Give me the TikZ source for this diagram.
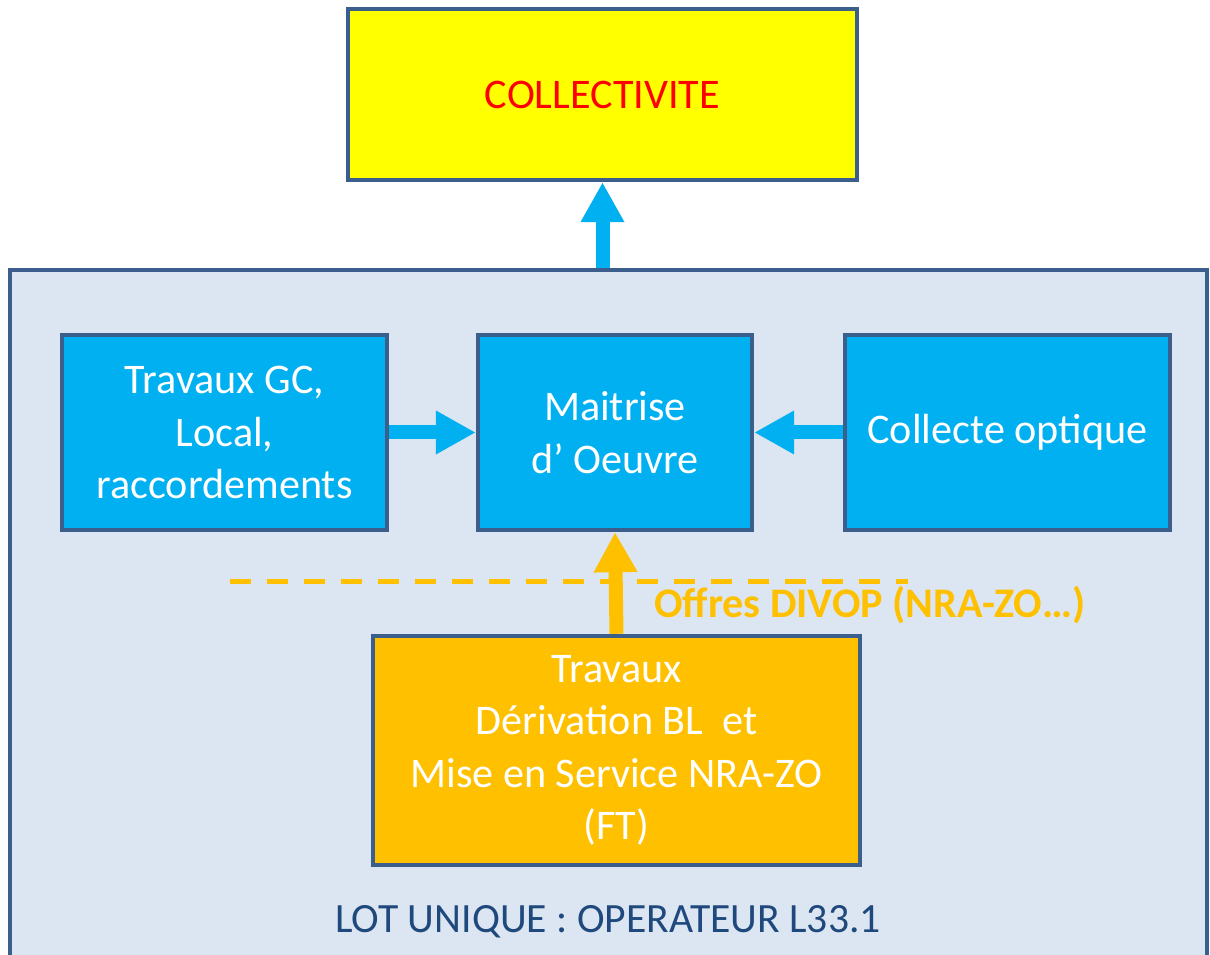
\documentclass[tikz,border=0pt]{standalone}
\usepackage{fontspec}
\setmainfont{Carlito}
\usepackage{xcolor}
\usetikzlibrary{arrows.meta, positioning}
\definecolor{framedark}{RGB}{59, 94, 140}
\definecolor{lotfill}{RGB}{220, 230, 242}
\definecolor{boxblue}{RGB}{0, 176, 240}
\definecolor{ftorange}{RGB}{255, 192, 0}
\definecolor{colyellow}{RGB}{255, 255, 0}
\definecolor{colred}{RGB}{255, 0, 0}
\definecolor{lottext}{RGB}{31, 73, 125}

\tikzset{
    box/.style={rectangle, draw=framedark, line width=0.09cm, inner sep=0pt, align=center,
        font=\fontsize{24}{29.8}\selectfont},
    bluebox/.style={box, fill=boxblue, text=white, minimum width=6.5cm, minimum height=3.9cm},
    bluearrow/.style={draw=boxblue, line width=0.28cm, -{Triangle[width=0.82cm, length=0.8cm]}},
    orangearrow/.style={draw=ftorange, line width=0.28cm, -{Triangle[width=0.82cm, length=0.8cm]}}
}

\begin{document}
\begin{tikzpicture}[x=0.02cm, y=-0.02cm]
    \useasboundingbox (0,0) rectangle (1210,955);

    % Lot unique frame
    \node (lot) [box, fill=lotfill, minimum width=23.94cm, minimum height=14.1cm] at (608.5, 622.5) {};
    \node (lotlabel) [text=lottext, font=\fontsize{23.7}{29.8}\selectfont] at (608, 922) {LOT UNIQUE : OPERATEUR L33.1};

    % Collectivite
    \node (col) [box, fill=colyellow, text=colred, minimum width=10.18cm, minimum height=3.42cm] at (602.5, 94.5) {COLLECTIVITE};

    % Blue row
    \node (gc) [bluebox] at (224.5, 432.5) {Travaux GC,\\Local,\\raccordements};
    \node (moe) [bluebox, minimum width=5.48cm] at (615, 432.5) {Maitrise\\d’ Oeuvre};
    \node (optic) [bluebox] at (1007.5, 432.5) {Collecte optique};

    % FT works
    \node (ft) [box, fill=ftorange, text=white, minimum width=9.74cm, minimum height=4.58cm] at (616.5, 750.5)
        {Travaux\\Dérivation BL\ \ et\\Mise en Service NRA-ZO\\(FT)};

    % DIVOP boundary
    \coordinate (divopL) at (230, 582);
    \coordinate (divopR) at (908, 582);
    \draw[ftorange, line width=0.1cm, dash pattern=on 0.42cm off 0.32cm] (divopL) -- (divopR);
    \node (divop) [anchor=west, text=ftorange, font=\fontsize{24}{29.8}\selectfont\bfseries] at (648, 605) {Offres DIVOP (NRA-ZO…)};

    \draw[bluearrow] (lot.north -| col.south) -- (col.south);
    \draw[bluearrow] (gc.east) -- (moe.west);
    \draw[bluearrow] (optic.west) -- (moe.east);
    \draw[orangearrow] (ft.north) -- (moe.south);
\end{tikzpicture}
\end{document}
